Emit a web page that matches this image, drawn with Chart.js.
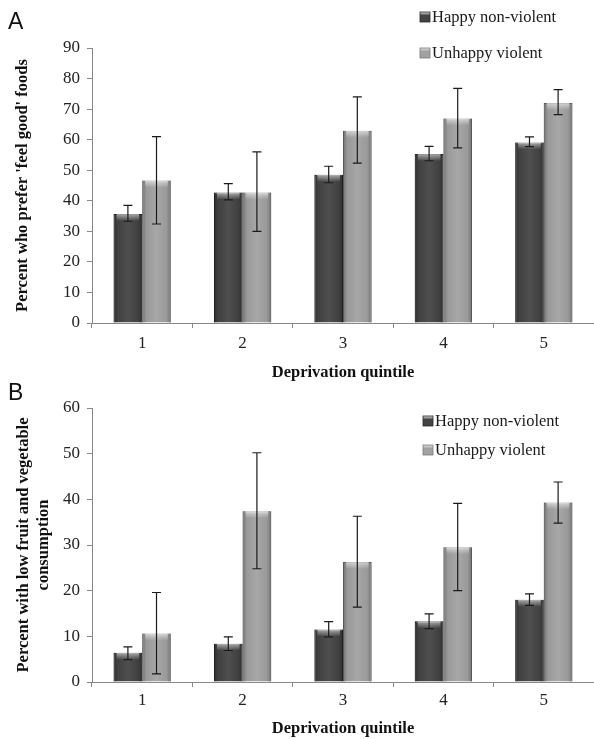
<!DOCTYPE html>
<html>
<head>
<meta charset="utf-8">
<script src="https://cdn.jsdelivr.net/npm/chart.js@4"></script>
<style>
  body { margin: 0; background: #fff; }
  #wrap { position: relative; width: 594px; height: 739px; overflow: hidden; }
  .panel { position: absolute; left: 0; width: 594px; }
  .letter { position: absolute; left: 8px; font-family: "Liberation Sans", Arial, sans-serif; font-size: 23px; color: #111; }
</style>
</head>
<body>
<div id="wrap">
  <div class="panel" style="top:0;height:390px"><canvas id="chartA"></canvas></div>
  <div class="panel" style="top:380px;height:360px"><canvas id="chartB"></canvas></div>
  <div class="letter" style="top:8px">A</div>
  <div class="letter" style="top:379px">B</div>
</div>
<script>
// quintiles
const quintiles = ['1', '2', '3', '4', '5'];
const seriesNames = ['Happy non-violent', 'Unhappy violent'];

// Panel A: prefer 'feel good' foods (%)
const aHappy = [35.7, 42.7, 48.5, 55.3, 59.1];
const aHappyLow = [33.3, 40.3, 45.9, 53.1, 57.7];
const aHappyHigh = [38.5, 45.6, 51.3, 57.8, 60.9];
const aUnhappy = [46.6, 42.7, 62.9, 66.9, 72.0];
const aUnhappyLow = [32.4, 30.0, 52.3, 57.3, 68.2];
const aUnhappyHigh = [61.0, 56.0, 74.0, 76.8, 76.4];

// Panel B: low fruit and vegetable consumption (%)
const bHappy = [6.4, 8.4, 11.5, 13.3, 18.0];
const bHappyLow = [4.9, 6.9, 9.9, 11.7, 16.8];
const bHappyHigh = [7.7, 9.9, 13.2, 14.9, 19.3];
const bUnhappy = [10.6, 37.4, 26.3, 29.5, 39.3];
const bUnhappyLow = [1.8, 24.8, 16.4, 20.0, 34.8];
const bUnhappyHigh = [19.6, 50.2, 36.3, 39.1, 43.8];

const serif = '"Liberation Serif", "Times New Roman", serif';
const darkFill = '#444444';
const lightFill = '#a2a2a2';

// bevel shading on top of plain bars
const bevelPlugin = {
    id: 'bevel',
    afterDatasetDraw(chart, args) {
        const ctx = chart.ctx;
        args.meta.data.forEach(bar => {
            const left = bar.x - bar.width / 2;
            const w = bar.width;
            const h = bar.base - bar.y;
            const g = ctx.createLinearGradient(left, 0, left + w, 0);
            g.addColorStop(0, 'rgba(0,0,0,0.30)');
            g.addColorStop(0.15, 'rgba(0,0,0,0.05)');
            g.addColorStop(0.5, 'rgba(255,255,255,0.06)');
            g.addColorStop(0.85, 'rgba(0,0,0,0.05)');
            g.addColorStop(1, 'rgba(0,0,0,0.30)');
            ctx.save();
            ctx.fillStyle = g;
            ctx.fillRect(left, bar.y, w, h);
            // top highlight
            const t = ctx.createLinearGradient(0, bar.y, 0, bar.y + 7);
            t.addColorStop(0, 'rgba(255,255,255,0.55)');
            t.addColorStop(1, 'rgba(255,255,255,0)');
            ctx.fillStyle = t;
            ctx.fillRect(left + 3, bar.y, w - 6, Math.min(7, h));
            ctx.restore();
        });
    }
};

// error bars from dataset.errLow / dataset.errHigh
const errorBarPlugin = {
    id: 'errorBars',
    afterDatasetsDraw(chart) {
        const ctx = chart.ctx;
        const y = chart.scales.y;
        chart.data.datasets.forEach((ds, i) => {
            const meta = chart.getDatasetMeta(i);
            meta.data.forEach((bar, j) => {
                const top = y.getPixelForValue(ds.errHigh[j]);
                const bot = y.getPixelForValue(ds.errLow[j]);
                ctx.save();
                ctx.strokeStyle = '#1a1a1a';
                ctx.lineWidth = 1.2;
                ctx.beginPath();
                ctx.moveTo(bar.x, top); ctx.lineTo(bar.x, bot);
                ctx.moveTo(bar.x - 4.5, top); ctx.lineTo(bar.x + 4.5, top);
                ctx.moveTo(bar.x - 4.5, bot); ctx.lineTo(bar.x + 4.5, bot);
                ctx.stroke();
                ctx.restore();
            });
        });
    }
};

// legend placed freely in the corner
const boxLegendPlugin = {
    id: 'boxLegend',
    afterDraw(chart, args, opts) {
        const ctx = chart.ctx;
        chart.data.datasets.forEach((ds, i) => {
            const cy = opts.y + i * opts.gap;
            ctx.save();
            const g = ctx.createLinearGradient(0, cy - 5, 0, cy + 5);
            g.addColorStop(0, '#e0e0e0');
            g.addColorStop(0.35, ds.backgroundColor);
            g.addColorStop(1, ds.backgroundColor);
            ctx.fillStyle = g;
            ctx.fillRect(opts.x, cy - 5, 10, 10);
            ctx.strokeStyle = ds.borderColor;
            ctx.lineWidth = 0.8;
            ctx.strokeRect(opts.x, cy - 5, 10, 10);
            ctx.fillStyle = '#1a1a1a';
            ctx.font = '16.5px ' + serif;
            ctx.textBaseline = 'middle';
            ctx.fillText(ds.label, opts.x + 12, cy + 1);
            ctx.restore();
        });
    }
};

function makeChart(id, opt) {
    return new Chart(document.getElementById(id), {
        type: 'bar',
        data: {
            labels: quintiles,
            datasets: [{
                label: seriesNames[0],
                data: opt.happy,
                errLow: opt.happyLow,
                errHigh: opt.happyHigh,
                backgroundColor: darkFill,
                borderColor: '#2a2a2a',
                borderWidth: 1
            }, {
                label: seriesNames[1],
                data: opt.unhappy,
                errLow: opt.unhappyLow,
                errHigh: opt.unhappyHigh,
                backgroundColor: lightFill,
                borderColor: '#7a7a7a',
                borderWidth: 1
            }]
        },
        options: {
            responsive: true,
            maintainAspectRatio: false,
            animation: false,
            devicePixelRatio: 1,
            layout: { padding: { top: opt.top, left: 0, right: 0, bottom: 0 } },
            datasets: { bar: { categoryPercentage: 0.57, barPercentage: 1.0 } },
            plugins: {
                legend: { display: false },
                tooltip: { enabled: false },
                boxLegend: opt.legend
            },
            scales: {
                x: {
                    afterFit: s => { s.height = opt.xHeight; },
                    grid: { drawOnChartArea: false, tickLength: 5, tickColor: '#888', offset: true },
                    border: { color: '#888', width: 1 },
                    ticks: { color: '#222', padding: opt.xTickPad, font: { family: serif, size: 17 } },
                    title: {
                        display: true,
                        text: 'Deprivation quintile',
                        color: '#111',
                        font: { family: serif, size: 16.5, weight: 'bold' },
                        padding: { top: 0, bottom: opt.xTitlePad }
                    }
                },
                y: {
                    min: 0,
                    max: opt.max,
                    afterFit: s => { s.width = 92; },
                    grid: { drawOnChartArea: false, tickLength: 5, tickColor: '#888' },
                    border: { color: '#888', width: 1 },
                    ticks: { stepSize: 10, color: '#222', padding: 7, font: { family: serif, size: 17 } },
                    title: {
                        display: true,
                        text: opt.yTitle,
                        color: '#111',
                        font: { family: serif, size: 16.5, weight: 'bold', lineHeight: 1.2 },
                        padding: { top: opt.yTitlePad, bottom: 0 }
                    }
                }
            }
        },
        plugins: [bevelPlugin, errorBarPlugin, boxLegendPlugin]
    });
}

makeChart('chartA', {
    happy: aHappy, happyLow: aHappyLow, happyHigh: aHappyHigh,
    unhappy: aUnhappy, unhappyLow: aUnhappyLow, unhappyHigh: aUnhappyHigh,
    max: 90, top: 48, xHeight: 67, xTickPad: 5, xTitlePad: 7, yTitlePad: 13,
    yTitle: "Percent who prefer 'feel good' foods",
    legend: { x: 420, y: 17, gap: 36 }
});

makeChart('chartB', {
    happy: bHappy, happyLow: bHappyLow, happyHigh: bHappyHigh,
    unhappy: bUnhappy, unhappyLow: bUnhappyLow, unhappyHigh: bUnhappyHigh,
    max: 60, top: 28, xHeight: 58, xTickPad: 3, xTitlePad: 1, yTitlePad: 14,
    yTitle: ['Percent with low fruit and vegetable', 'consumption'],
    legend: { x: 423, y: 41, gap: 29 }
});
</script>
</body>
</html>
